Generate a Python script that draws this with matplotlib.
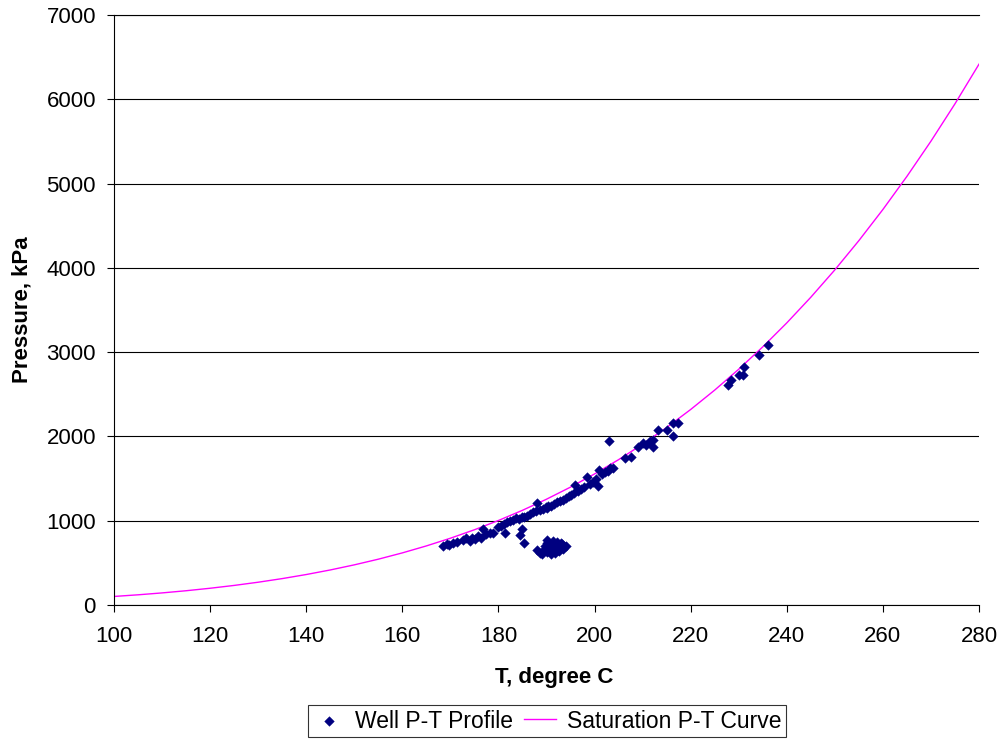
import matplotlib
matplotlib.use("Agg")
import matplotlib.pyplot as plt
import numpy as np

plt.rcParams['font.family'] = ['Liberation Sans', 'DejaVu Sans']

# saturation curve of water, T (degC) vs P (kPa)
sat_T = [100, 105, 110, 115, 120, 125, 130, 135, 140, 145, 150, 155, 160, 165, 170, 175, 180, 185, 190,
         195, 200, 205, 210, 215, 220, 225, 230, 235, 240, 245, 250, 255, 260, 265, 270, 275, 280]
sat_P = [101.4, 120.9, 143.4, 169.2, 198.7, 232.2, 270.3, 313.2, 361.5, 415.7, 476.2, 543.5, 618.2,
         700.9, 792.2, 892.6, 1002.8, 1123.5, 1255.2, 1398.8, 1554.9, 1724.3, 1907.7, 2105.9, 2319.6,
         2549.7, 2797.1, 3062.5, 3346.9, 3651.2, 3976.2, 4322.9, 4692.3, 5085.3, 5503.0, 5946.4, 6416.6]

# well profile points
well_T = [168.5, 169.2, 169.8, 170.5, 171.4,
          172.6, 173.3, 174.0, 174.6, 175.2, 175.8, 176.3, 176.8, 177.4, 178.2, 178.9,
          180.0, 180.6, 181.2, 181.8, 182.4, 183.0, 183.6, 184.2, 184.8, 185.4, 186.0,
          186.6, 187.2, 187.8, 188.0, 188.6, 189.2, 189.8, 190.0, 190.4, 191.0, 191.6,
          192.2, 192.8, 193.4, 194.0, 194.6, 195.2, 195.8, 196.0, 196.6, 197.2, 197.8,
          198.4, 199.0, 199.6, 200.2, 200.7, 201.0, 201.6, 202.2, 202.8, 203.2, 203.8,
          203.0, 206.3, 207.5, 209.0, 210.0, 210.8, 211.5, 212.2, 212.2, 213.2, 215.0,
          216.3, 216.3, 217.4,
          227.8, 228.4, 230.0, 230.9, 231.0, 234.2, 236.1,
          181.4, 184.5, 185.0, 185.3,
          188.0, 188.6, 189.2, 189.6, 190.1, 190.4, 190.8, 191.2, 191.6, 192.0, 192.4,
          192.8, 193.2, 193.6, 194.0, 189.0, 190.2, 191.0, 191.8, 192.6, 193.4, 190.6,
          191.4, 192.2, 193.0, 189.6, 190.0]
well_P = [700, 720, 710, 740, 750,
          770, 790, 760, 800, 780, 820, 790, 900, 840, 855, 850,
          925, 940, 960, 980, 1000, 1010, 1030, 1020, 1050, 1040, 1060,
          1080, 1100, 1120, 1210, 1130, 1140, 1160, 1150, 1170, 1180, 1200,
          1220, 1230, 1250, 1270, 1290, 1310, 1330, 1420, 1350, 1380, 1400,
          1520, 1440, 1460, 1490, 1410, 1600, 1560, 1580, 1590, 1620, 1625,
          1945, 1745, 1755, 1875, 1920, 1900, 1940, 1875, 1955, 2075, 2075,
          2000, 2160, 2160,
          2610, 2670, 2730, 2730, 2820, 2965, 3085,
          850, 830, 900, 735,
          650, 620, 640, 700, 770, 660, 700, 640, 720, 680, 650,
          700, 720, 690, 700, 600, 630, 610, 620, 640, 660, 740,
          760, 750, 730, 670, 740]

fig = plt.figure(figsize=(10.03, 7.42), dpi=100)
ax = fig.add_axes([114/1003, 1-605/742, (979-114)/1003, (605-15)/742])

ax.plot(sat_T, sat_P, color='#FF00FF', lw=1.0, label='Saturation P-T Curve', zorder=2)
ax.scatter(well_T, well_P, marker='D', s=24, color='#000080', edgecolors='#000080',
           linewidths=0.3, label='Well P-T Profile', zorder=3)

ax.set_xlim(100, 280)
ax.set_ylim(0, 7000)
ax.set_xticks(np.arange(100, 281, 20))
ax.set_yticks(np.arange(0, 7001, 1000))
ax.yaxis.grid(True, color='black', lw=0.8)
ax.set_axisbelow(True)
ax.spines['right'].set_visible(False)
ax.spines['top'].set_color('black')
ax.spines['top'].set_linewidth(0.8)
ax.tick_params(axis='both', labelsize=16, direction='out', length=5, width=0.8)
ax.tick_params(axis='y', pad=8)
ax.tick_params(axis='x', pad=10)
ax.set_xlabel('T, degree C', fontsize=16, fontweight='bold')
ax.xaxis.set_label_coords((554-114)/865, -(678-605)/590)
ax.xaxis.label.set_va('center')
ax.set_ylabel('Pressure, kPa', fontsize=16, fontweight='bold', labelpad=10)

h, l = ax.get_legend_handles_labels()
leg = fig.legend(h[::-1], l[::-1], loc='center', bbox_to_anchor=(547/1003, 1-721/742), ncol=2,
                 fontsize=16.5, frameon=True, fancybox=False, edgecolor='black',
                 handlelength=1.4, columnspacing=0.47, handletextpad=0.45, borderpad=0.2,
                 borderaxespad=0)
leg.get_frame().set_linewidth(0.8)

fig.savefig('out.png', dpi=100)
